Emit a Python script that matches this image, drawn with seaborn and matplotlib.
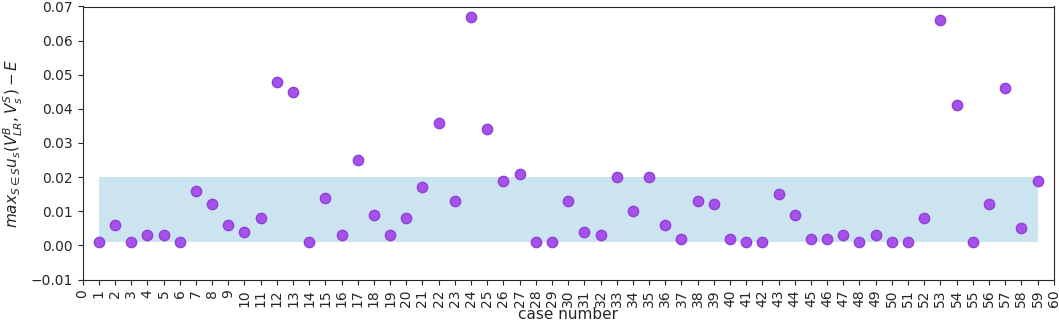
import numpy as np
import pandas as pd
import matplotlib.pyplot as plt
import seaborn as sns

sns.set_style("ticks")
plt.rcParams["font.family"] = ["DejaVu Sans"]

# ========== 数据 ==========
case_number = list(range(1, 60))
gap_values = [
    0.001, 0.006, 0.001, 0.003, 0.003, 0.001, 0.016, 0.012, 0.006, 0.004,
    0.008, 0.048, 0.045, 0.001, 0.014, 0.003, 0.025, 0.009, 0.003, 0.008,
    0.017, 0.036, 0.013, 0.067, 0.034, 0.019, 0.021, 0.001, 0.001, 0.013,
    0.004, 0.003, 0.020, 0.010, 0.020, 0.006, 0.002, 0.013, 0.012, 0.002,
    0.001, 0.001, 0.015, 0.009, 0.002, 0.002, 0.003, 0.001, 0.003, 0.001,
    0.001, 0.008, 0.066, 0.041, 0.001, 0.012, 0.046, 0.005, 0.019,
]
band_low = 0.001
band_high = 0.02

df = pd.DataFrame({"case": case_number, "gap": gap_values})

# ========== 绘图 ==========
fig, ax = plt.subplots(figsize=(10.59, 3.25), dpi=100)

# 浅蓝色区间带
ax.fill_between(df["case"], band_low, band_high, color="#cce3f0", linewidth=0)
sns.scatterplot(
    data=df, x="case", y="gap", ax=ax,
    color="#a652ea", s=55, edgecolor="#9040d8", linewidth=1,
    zorder=3,
)

ax.set_xlim(0, 60)
ax.set_ylim(-0.01, 0.07)
ax.set_xticks(range(0, 61))
ax.set_xticklabels([str(i) for i in range(0, 61)], rotation=90, fontsize=10)
yt = np.arange(-0.01, 0.0701, 0.01)
ax.set_yticks(yt)
ax.set_yticklabels([f"{v:.2f}".replace("-", "\u2212") for v in yt], fontsize=10)
ax.set_xlabel("case number", fontsize=11, labelpad=0)
ax.set_ylabel(r"$max_{S\in S}u_s(V^B_{LR},V^S_s)-E$", fontsize=11)

plt.subplots_adjust(left=0.078, right=0.995, top=0.98, bottom=0.14)
plt.savefig("out.png", dpi=100)
